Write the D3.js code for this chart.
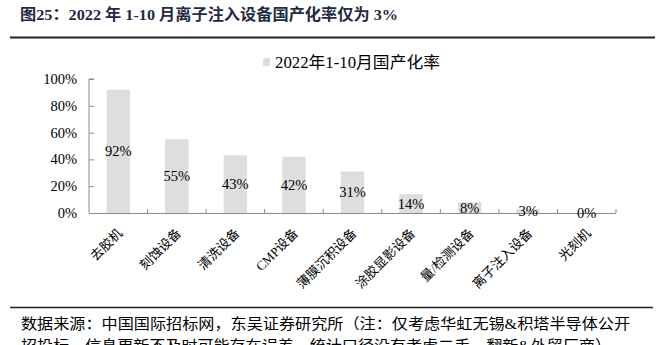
<!DOCTYPE html>
<html>
<head>
<meta charset="utf-8">
<script src="https://cdn.jsdelivr.net/npm/d3@7"></script>
<style>
  html, body { margin: 0; padding: 0; background: #fff; }
  svg { display: block; }
  text { font-family: "Liberation Serif", "Noto Sans CJK SC", serif; }
</style>
</head>
<body>
<svg id="chart" width="671" height="345"></svg>
<script>
// Localisation rate by equipment type, Jan–Oct 2022
const categories = ["去胶机", "刻蚀设备", "清洗设备", "CMP设备", "薄膜沉积设备", "涂胶显影设备", "量/检测设备", "离子注入设备", "光刻机"];
const rates = [92, 55, 43, 42, 31, 14, 8, 3, 0];
const yTicks = [0, 20, 40, 60, 80, 100];
const seriesName = "2022年1-10月国产化率";
const titleText = "图25：2022 年 1-10 月离子注入设备国产化率仅为 3%";
const sourceLines = [
  "数据来源：中国国际招标网，东吴证券研究所（注：仅考虑华虹无锡&积塔半导体公开",
  "招投标，信息更新不及时可能存在误差，统计口径没有考虑二手，翻新&外贸厂商）"
];

const svg = d3.select("#chart");
const axisColor = "#8c8c8c";
const barColor = "#dedede";

// Header
svg.append("text")
  .attr("x", 20).attr("y", 20)
  .attr("font-size", 15.5).attr("font-weight", "bold")
  .attr("fill", "#1f2a44")
  .attr("textLength", 378).attr("lengthAdjust", "spacingAndGlyphs")
  .text(titleText);
svg.append("line")
  .attr("x1", 10).attr("x2", 655).attr("y1", 37.5).attr("y2", 37.5)
  .attr("stroke", "#222").attr("stroke-width", 2);

// Plot area
const x = d3.scaleBand().domain(categories).range([89, 616]).paddingInner(0.6).paddingOuter(0.3);
const y = d3.scaleLinear().domain([0, 100]).range([213, 79]);

// Bars
svg.append("g").selectAll("rect")
  .data(rates)
  .join("rect")
  .attr("x", (d, i) => x(categories[i]))
  .attr("width", x.bandwidth())
  .attr("y", d => y(d))
  .attr("height", d => y(0) - y(d))
  .attr("fill", barColor);

// Y axis with inward ticks
const yAxis = svg.append("g")
  .attr("transform", "translate(89,0)")
  .call(d3.axisRight(y).tickValues(yTicks).tickSize(5).tickFormat(""));
yAxis.select(".domain").attr("stroke", axisColor).attr("d", `M5,${y(100)}H0V${y(0)}`);
yAxis.selectAll(".tick line").attr("stroke", axisColor);
svg.append("g").selectAll("text")
  .data(yTicks)
  .join("text")
  .attr("x", 77).attr("y", d => y(d) + 5)
  .attr("text-anchor", "end")
  .attr("font-size", 14.5)
  .text(d => d + "%");

// X axis: baseline with small upward ticks at category boundaries
const boundaries = d3.range(categories.length + 1).map(i => 89 + i * (616 - 89) / categories.length);
const xAxisG = svg.append("g");
xAxisG.append("line")
  .attr("x1", 89).attr("x2", 616).attr("y1", y(0) + 0.5).attr("y2", y(0) + 0.5)
  .attr("stroke", axisColor).attr("stroke-width", 1.2);
xAxisG.selectAll("line.tick")
  .data(boundaries.slice(1))
  .join("line")
  .attr("class", "tick")
  .attr("x1", d => d).attr("x2", d => d)
  .attr("y1", y(0)).attr("y2", y(0) - 4)
  .attr("stroke", axisColor);

// Category labels, rotated
svg.append("g").selectAll("text")
  .data(categories)
  .join("text")
  .attr("transform", d => `translate(${x(d) + x.bandwidth() / 2 + 5},${y(0) + 21}) rotate(-45)`)
  .attr("text-anchor", "end")
  .attr("font-size", 13)
  .text(d => d);

// Value labels centred in each bar
svg.append("g").selectAll("text")
  .data(rates)
  .join("text")
  .attr("x", (d, i) => x(categories[i]) + x.bandwidth() / 2)
  .attr("y", d => (y(d) + y(0)) / 2 + 5)
  .attr("text-anchor", "middle")
  .attr("font-size", 14.5)
  .text(d => d + "%");

// Legend
svg.append("rect")
  .attr("x", 263).attr("y", 58).attr("width", 7).attr("height", 8)
  .attr("fill", barColor);
svg.append("text")
  .attr("x", 275).attr("y", 67.5)
  .attr("font-size", 16)
  .attr("textLength", 165).attr("lengthAdjust", "spacingAndGlyphs")
  .text(seriesName);

// Source note
svg.append("line")
  .attr("x1", 10).attr("x2", 653).attr("y1", 307.5).attr("y2", 307.5)
  .attr("stroke", "#222").attr("stroke-width", 1.6);
svg.append("g").selectAll("text")
  .data(sourceLines)
  .join("text")
  .attr("x", 21)
  .attr("y", (d, i) => 329 + i * 22)
  .attr("font-size", 15)
  .attr("textLength", (d, i) => i === 0 ? 609 : 590)
  .attr("lengthAdjust", "spacingAndGlyphs")
  .text(d => d);
</script>
</body>
</html>
